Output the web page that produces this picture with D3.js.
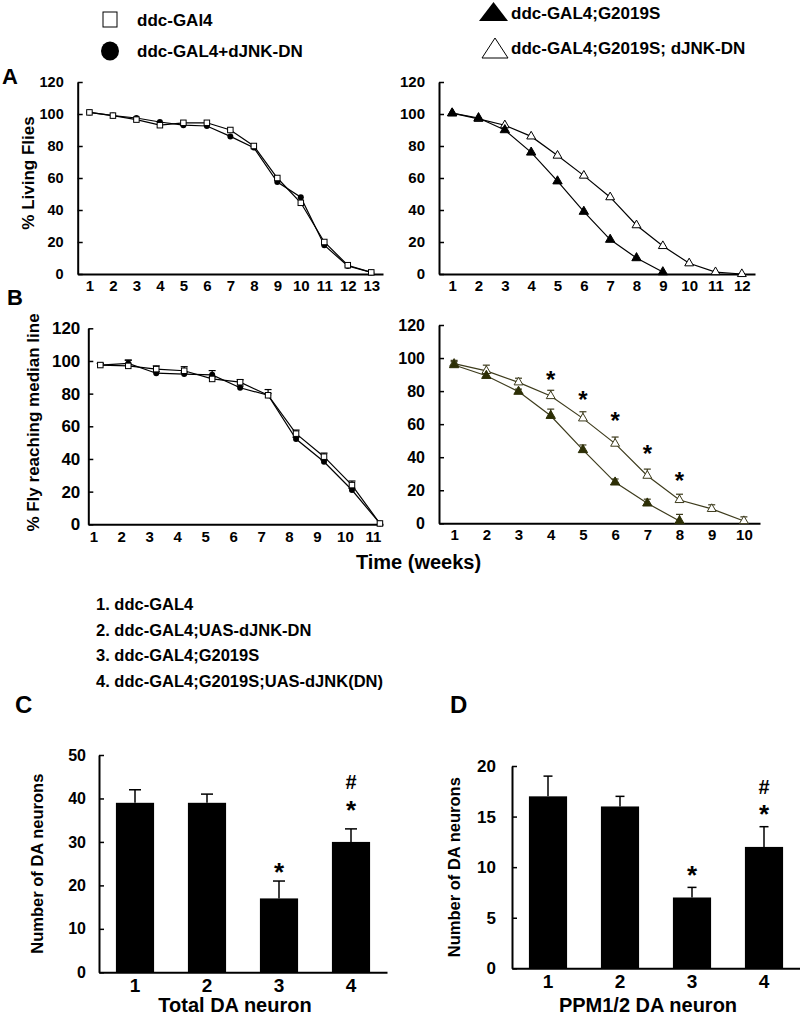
<!DOCTYPE html>
<html><head><meta charset="utf-8">
<script src="https://cdn.jsdelivr.net/npm/d3@7"></script>
<style>body{margin:0;background:#fff}</style>
</head><body>
<script>
// ---------- DATA ----------
const legendLabels = ["ddc-GAl4", "ddc-GAL4+dJNK-DN", "ddc-GAL4;G2019S", "ddc-GAL4;G2019S; dJNK-DN"];
const genotypeList = ["1. ddc-GAL4", "2. ddc-GAL4;UAS-dJNK-DN", "3. ddc-GAL4;G2019S", "4. ddc-GAL4;G2019S;UAS-dJNK(DN)"];

// Panel A left: survival
const aLeftWeeks = [1,2,3,4,5,6,7,8,9,10,11,12,13];
const aLeftGal4  = [101, 99, 96.5, 93, 94.5, 94.5, 90, 80, 60, 44.5, 20, 5.5, 1];
const aLeftJnk   = [101, 99, 97.5, 95, 93, 92.5, 86, 79, 57.5, 48, 18, 5, 1];

// Panel A right: survival
const aRightWeeks   = [1,2,3,4,5,6,7,8,9,10,11,12];
const aRightG2019S  = [100.5, 97.5, 90, 76, 58, 39, 21.5, 10, 1.2];
const aRightG2019SJnk = [100.5, 97, 93, 86, 74, 61.5, 48, 30.5, 17.5, 6.7, 1.2, 0];

// Panel B left: climbing
const bLeftWeeks   = [1,2,3,4,5,6,7,8,9,10,11];
const bLeftGal4    = [97.5, 97, 95, 94, 89, 87, 79, 55.5, 41.4, 24, 0.5];
const bLeftGal4Err = [1, 3.5, 2, 2.5, 1, 1.5, 3.5, 2.2, 2.2, 2.5, 0];
const bLeftJnk     = [97.5, 98.5, 92.5, 92, 91.5, 83.6, 79, 52.2, 38.3, 21, 0.5];
const bLeftJnkErr  = [1, 2, 1, 1, 2.6, 1, 1, 1, 1, 1, 0];

// Panel B right: climbing
const bRightWeeks     = [1,2,3,4,5,6,7,8,9,10];
const bRightG2019S    = [95.8, 89.3, 79.7, 65.1, 44.4, 24.8, 12.1, 1.4];
const bRightG2019SErr = [2, 1.5, 1.5, 4, 3, 2, 2.5, 4];
const bRightJnk       = [96.6, 92.2, 85.3, 77, 63.5, 48.2, 28.8, 14.1, 8.7, 1.4];
const bRightJnkErr    = [2, 3.5, 2.5, 3.5, 4, 4, 4, 3.5, 2.5, 2.5];
const bRightStarWeeks = [4, 5, 6, 7, 8];
const bRightStarY     = [90, 77.6, 65, 45, 28.8];

// Panel C / D: neuron counts
const barGroups = ["1", "2", "3", "4"];
const cValues = [39, 39, 17, 30];
const cErr    = [3, 2, 4, 3];
const cMarks  = [{g:"3", t:"*", v:24.3}, {g:"4", t:"*", v:38.5}, {g:"4", t:"#", v:43.9}];
const dValues = [17, 16, 7, 12];
const dErr    = [2, 1, 1, 2];
const dMarks  = [{g:"3", t:"*", v:9.7}, {g:"4", t:"*", v:15.8}, {g:"4", t:"#", v:17.9}];

const tickA = [0,20,40,60,80,100,120];
const tickC = [0,10,20,30,40,50];
const tickD = [0,5,10,15,20];

// ---------- DRAW ----------
const FONT = "'Liberation Sans', Arial, Helvetica, sans-serif";
const OLIVE = "#3d3b1c", OLIVE_FILL = "#2d2f06";
const svg = d3.select("body").append("svg").attr("width", 800).attr("height", 1021)
  .style("background", "#fff").style("font-family", FONT);

function txt(x, y, s, size, opts = {}) {
  const t = svg.append("text").attr("x", x).attr("y", y).text(s)
    .attr("font-size", size).attr("font-weight", "bold").attr("fill", "#000");
  if (opts.anchor) t.attr("text-anchor", opts.anchor);
  if (opts.rotate) t.attr("transform", `rotate(-90,${x},${y})`);
  return t;
}

function styleAxis(g, fs) {
  g.select(".domain").attr("stroke", "#000").attr("stroke-width", 2);
  g.selectAll(".tick line").attr("stroke", "#000").attr("stroke-width", 1.5);
  g.selectAll(".tick text").attr("font-size", fs).attr("font-weight", "bold")
    .attr("font-family", FONT).attr("fill", "#000");
}

function yAxis(scale, x, ticks, pad, fs) {
  const g = svg.append("g").attr("transform", `translate(${x},0)`)
    .call(d3.axisLeft(scale).tickValues(ticks).tickSizeInner(-5).tickSizeOuter(0).tickPadding(pad));
  styleAxis(g, fs);
  return g;
}
function xAxis(scale, y, ticks, pad, fs, dx = 0) {
  const g = svg.append("g").attr("transform", `translate(0,${y})`)
    .call(d3.axisBottom(scale).tickValues(ticks).tickSize(0).tickPadding(pad).tickFormat(d3.format("d")));
  styleAxis(g, fs);
  g.selectAll(".tick text").attr("dx", dx);
  return g;
}

const tri = d3.symbol().type(d3.symbolTriangle);

function series(x, y, weeks, vals, color, width) {
  const pts = vals.map((v, i) => [weeks[i], v]);
  svg.append("path").datum(pts)
    .attr("d", d3.line().x(d => x(d[0])).y(d => y(d[1])))
    .attr("fill", "none").attr("stroke", color).attr("stroke-width", width);
  return pts;
}
function errBars(x, y, weeks, vals, errs, color, cap) {
  vals.forEach((v, i) => {
    if (!errs[i]) return;
    const cx = x(weeks[i]), y0 = y(v), y1 = y(v + errs[i]);
    svg.append("line").attr("x1", cx).attr("x2", cx).attr("y1", y0).attr("y2", y1)
      .attr("stroke", color).attr("stroke-width", 1.2);
    svg.append("line").attr("x1", cx - cap / 2).attr("x2", cx + cap / 2).attr("y1", y1).attr("y2", y1)
      .attr("stroke", color).attr("stroke-width", 1.2);
  });
}
function squares(x, y, pts, s) {
  svg.append("g").selectAll("rect").data(pts).join("rect")
    .attr("x", d => x(d[0]) - s / 2).attr("y", d => y(d[1]) - s / 2)
    .attr("width", s).attr("height", s).attr("fill", "#fff").attr("stroke", "#000").attr("stroke-width", 1);
}
function circles(x, y, pts, r) {
  svg.append("g").selectAll("circle").data(pts).join("circle")
    .attr("cx", d => x(d[0])).attr("cy", d => y(d[1])).attr("r", r).attr("fill", "#000");
}
function triangles(x, y, pts, size, fill, stroke) {
  svg.append("g").selectAll("path").data(pts).join("path")
    .attr("d", tri.size(size)).attr("transform", d => `translate(${x(d[0])},${y(d[1])})`)
    .attr("fill", fill).attr("stroke", stroke).attr("stroke-width", 1);
}

// ---- Legend ----
svg.append("rect").attr("x", 103).attr("y", 12).attr("width", 14).attr("height", 15)
  .attr("fill", "#fff").attr("stroke", "#000").attr("stroke-width", 1);
svg.append("ellipse").attr("cx", 110).attr("cy", 51).attr("rx", 9).attr("ry", 9.5).attr("fill", "#000");
svg.append("path").attr("d", "M493.5,2L479,21L508,21Z").attr("fill", "#000");
svg.append("path").attr("d", "M495,38L482,58L508,58Z").attr("fill", "#fff").attr("stroke", "#000").attr("stroke-width", 1);
txt(137, 26, legendLabels[0], 17);
txt(137, 57, legendLabels[1], 17);
txt(511, 19, legendLabels[2], 17);
txt(511, 54, legendLabels[3], 17);

// ---- Panel A left ----
{
  const x = d3.scaleLinear().domain([0.5, 13.5]).range([77.7, 383]);
  const y = d3.scaleLinear().domain([0, 120]).range([274, 82]);
  xAxis(x, 274, aLeftWeeks, 6, 15);
  yAxis(y, 77.7, tickA, 14, 14.5);
  const p1 = series(x, y, aLeftWeeks, aLeftGal4, "#000", 1.2);
  const p2 = series(x, y, aLeftWeeks, aLeftJnk, "#000", 1.2);
  circles(x, y, p2, 3);
  squares(x, y, p1, 5.5);
  txt(34, 173, "% Living Flies", 17, {anchor: "middle", rotate: true});
  txt(2, 84, "A", 22);
}
// ---- Panel A right ----
{
  const x = d3.scaleLinear().domain([0.5, 12.5]).range([439, 755]);
  const y = d3.scaleLinear().domain([0, 120]).range([274, 82]);
  xAxis(x, 274, aRightWeeks, 6, 15);
  yAxis(y, 439, tickA, 14, 15);
  const p1 = series(x, y, aRightWeeks, aRightG2019S, "#000", 1.2);
  const p2 = series(x, y, aRightWeeks, aRightG2019SJnk, "#000", 1.2);
  triangles(x, y, p2, 34, "#fff", "#000");
  triangles(x, y, p1, 38, "#000", "#000");
}
// ---- Panel B left ----
{
  const x = d3.scaleLinear().domain([0.57, 11.11]).range([88.3, 383]);
  const y = d3.scaleLinear().domain([0, 120]).range([524.3, 328.3]);
  xAxis(x, 524.3, bLeftWeeks, 7.5, 15, -7);
  yAxis(y, 88.3, tickA, 8, 17);
  errBars(x, y, bLeftWeeks, bLeftGal4, bLeftGal4Err, "#000", 7);
  errBars(x, y, bLeftWeeks, bLeftJnk, bLeftJnkErr, "#000", 7);
  const p1 = series(x, y, bLeftWeeks, bLeftGal4, "#000", 1.2);
  const p2 = series(x, y, bLeftWeeks, bLeftJnk, "#000", 1.2);
  circles(x, y, p2, 3);
  squares(x, y, p1, 5.5);
  txt(39, 422.5, "% Fly reaching median line", 17, {anchor: "middle", rotate: true});
  txt(7, 305, "B", 22);
}
// ---- Panel B right ----
{
  const x = d3.scaleLinear().domain([0.53, 10.5]).range([439, 760]);
  const y = d3.scaleLinear().domain([0, 120]).range([523.3, 325]);
  xAxis(x, 523.3, bRightWeeks, 6.5, 15);
  yAxis(y, 439, tickA, 14, 16);
  errBars(x, y, bRightWeeks, bRightG2019S, bRightG2019SErr, OLIVE, 7);
  errBars(x, y, bRightWeeks, bRightJnk, bRightJnkErr, OLIVE, 7);
  const p1 = series(x, y, bRightWeeks, bRightG2019S, OLIVE, 1.2);
  const p2 = series(x, y, bRightWeeks, bRightJnk, OLIVE, 1.2);
  triangles(x, y, p2, 34, "#fff", OLIVE);
  triangles(x, y, p1, 38, OLIVE_FILL, OLIVE_FILL);
  svg.append("g").selectAll("text").data(bRightStarWeeks).join("text")
    .attr("x", d => x(d)).attr("y", (d, i) => y(bRightStarY[i])).attr("dy", "0.55em")
    .attr("text-anchor", "middle").attr("font-size", 24).attr("font-weight", "bold").text("*");
}
txt(418.5, 569, "Time (weeks)", 20, {anchor: "middle"});

// ---- Genotype list ----
genotypeList.forEach((s, i) => txt(96, [610, 636, 661, 687][i], s, 16.5));

// ---- Bar panels ----
function barPanel(x0, x1, y0, y1, vals, errs, marks, maxV, ticks, yPad, yFs, cap, title, ylab, ylabX, letter, letterX) {
  const x = d3.scaleBand().domain(barGroups).range([x0, x1]).paddingInner(0.47).paddingOuter(0.235);
  const y = d3.scaleLinear().domain([0, maxV]).range([y0, y1]);
  svg.append("g").selectAll("rect").data(vals).join("rect")
    .attr("x", (d, i) => x(barGroups[i])).attr("y", d => y(d))
    .attr("width", x.bandwidth()).attr("height", d => y0 - y(d)).attr("fill", "#000");
  vals.forEach((v, i) => {
    const cx = x(barGroups[i]) + x.bandwidth() / 2;
    svg.append("line").attr("x1", cx).attr("x2", cx).attr("y1", y(v)).attr("y2", y(v + errs[i]))
      .attr("stroke", "#000").attr("stroke-width", 1.5);
    svg.append("line").attr("x1", cx - cap / 2).attr("x2", cx + cap / 2)
      .attr("y1", y(v + errs[i])).attr("y2", y(v + errs[i])).attr("stroke", "#000").attr("stroke-width", 1.5);
  });
  marks.forEach(m => {
    svg.append("text").attr("x", x(m.g) + x.bandwidth() / 2).attr("y", y(m.v))
      .attr("dy", m.t === "*" ? "0.55em" : "0.36em").attr("text-anchor", "middle")
      .attr("font-size", m.t === "*" ? 26 : 20).attr("font-weight", "bold").text(m.t);
  });
  const gx = svg.append("g").attr("transform", `translate(0,${y0})`)
    .call(d3.axisBottom(x).tickSize(0).tickPadding(6));
  styleAxis(gx, 19);
  yAxis(y, x0, ticks, yPad, yFs);
  txt((x0 + x1) / 2 - 8, 1012, title, 20, {anchor: "middle"});
  txt(ylabX, (y0 + y1) / 2, ylab, 16.5, {anchor: "middle", rotate: true});
  txt(letterX, 713, letter, 24);
}
barPanel(99, 387, 972.3, 755, cValues, cErr, cMarks, 50, tickC, 13, 16, 12,
  "Total DA neuron", "Number of DA neurons", 43.5, "C", 15);
barPanel(512, 800, 968.3, 766, dValues, dErr, dMarks, 20, tickD, 16, 17, 9,
  "PPM1/2 DA neuron", "Number of DA neurons", 460, "D", 450);
</script>
</body></html>
